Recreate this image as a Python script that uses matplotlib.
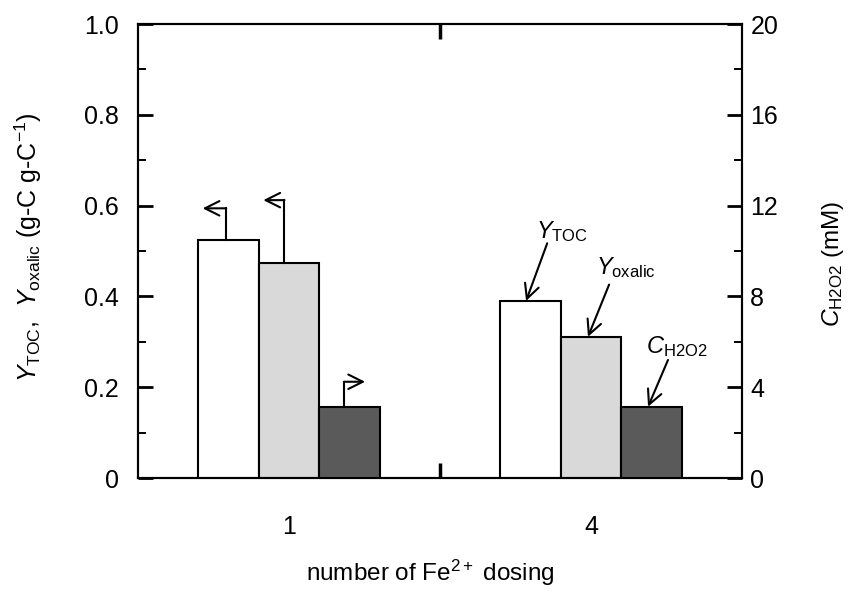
import numpy as np
import matplotlib
matplotlib.use("Agg")
import matplotlib.pyplot as plt

plt.rcParams['font.family'] = 'Liberation Sans'
plt.rcParams['mathtext.fontset'] = 'custom'
plt.rcParams['mathtext.rm'] = 'Liberation Sans'
plt.rcParams['mathtext.it'] = 'Liberation Sans:italic'
plt.rcParams['font.size'] = 18

# data
dosing = ['1', '4']
y_toc = [0.524, 0.390]
y_oxalic = [0.474, 0.311]
c_h2o2 = [3.14, 3.14]     # mM, right axis

pos = np.array([0.5, 1.5])
w = 0.2

fig = plt.figure(figsize=(8.52, 5.92), dpi=100)
ax = fig.add_axes([138/852, 1 - 478/592, 604/852, 454/592])
ax2 = ax.twinx()

ax.bar(pos - w, y_toc, w, color='white', edgecolor='black', lw=1.5, zorder=3)
ax.bar(pos, y_oxalic, w, color='#d9d9d9', edgecolor='black', lw=1.5, zorder=3)
ax2.bar(pos + w, c_h2o2, w, color='#5a5a5a', edgecolor='black', lw=1.5, zorder=3)

ax.set_xlim(0, 2)
ax.set_ylim(0, 1.0)
ax2.set_ylim(0, 20)

ax.set_xticks(pos)
ax.set_xticklabels(dosing)
ax.set_xticks([1.0], minor=True)
ax.tick_params(axis='x', which='major', length=0, pad=27)
ax.tick_params(axis='x', which='minor', direction='in', length=11, width=2.5, top=True)

ax.set_yticks(np.arange(0, 1.01, 0.2))
ax.set_yticklabels(['0', '0.2', '0.4', '0.6', '0.8', '1.0'])
ax.set_yticks(np.arange(0.1, 1.0, 0.2), minor=True)
ax.tick_params(axis='y', which='major', direction='in', length=11, width=2, pad=14)
ax.tick_params(axis='y', which='minor', direction='in', length=6, width=1.4)

ax2.set_yticks(np.arange(0, 21, 4))
ax2.set_yticks(np.arange(2, 20, 4), minor=True)
ax2.tick_params(axis='y', which='major', direction='in', length=11, width=2, pad=6)
ax2.tick_params(axis='y', which='minor', direction='in', length=6, width=1.4)

for a in (ax, ax2):
    for s in a.spines.values():
        s.set_linewidth(1.5)

fig.text(430/852, 1 - 573/592, 'number of Fe$^{2+}$ dosing',
         ha='center', va='center', fontsize=17.5)
fig.text(28/852, 1 - 247/592, r'$Y_{\mathrm{TOC}}$,  $Y_{\mathrm{oxalic}}$ (g-C g-C$^{-1}$)',
         rotation=90, ha='center', va='center', fontsize=18)
fig.text(833/852, 1 - 264/592, r'$C_{\mathrm{H2O2}}$ (mM)',
         rotation=90, ha='center', va='center', fontsize=17.5)

# elbow arrows for the first group: up from bar top, then sideways
ratio = 1.0 / 20
elbows = [
    (pos[0] - w - 0.008, y_toc[0], 0.07, -0.078),
    (pos[0] - 0.015, y_oxalic[0], 0.138, -0.07),
    (pos[0] + w - 0.018, c_h2o2[0] * ratio, 0.055, 0.07),
]
akw = dict(arrowstyle='->', lw=1.5, color='black', mutation_scale=26,
           shrinkA=0, shrinkB=0)
for x0, top, rise, dx in elbows:
    ax.plot([x0, x0], [top, top + rise], color='black', lw=1.5, zorder=4,
            solid_capstyle='projecting')
    ax.annotate('', xy=(x0 + dx, top + rise), xytext=(x0, top + rise),
                arrowprops=akw, zorder=4)

# labelled arrows for the second group
labels = [r'$Y_{\mathrm{TOC}}$', r'$Y_{\mathrm{oxalic}}$', r'$C_{\mathrm{H2O2}}$']
tips = [(pos[1] - w - 0.015, y_toc[1]), (pos[1] - 0.01, y_oxalic[1]),
        (pos[1] + w - 0.011, c_h2o2[1] * ratio)]
tails = [(0.07, 0.127), (0.07, 0.115), (0.066, 0.103)]
txt = [(0.12, 0.152), (0.125, 0.152), (0.095, 0.132)]
for lab, (tx, ty), (ddx, ddy), (lx, ly) in zip(labels, tips, tails, txt):
    ax.annotate('', xy=(tx, ty), xytext=(tx + ddx, ty + ddy),
                arrowprops=dict(arrowstyle='->', lw=1.5, color='black', mutation_scale=26,
                                shrinkA=0, shrinkB=0), zorder=4)
    ax.text(tx + lx, ty + ly, lab, ha='center', va='center', fontsize=17, zorder=4)

fig.savefig('out.png', dpi=100)
